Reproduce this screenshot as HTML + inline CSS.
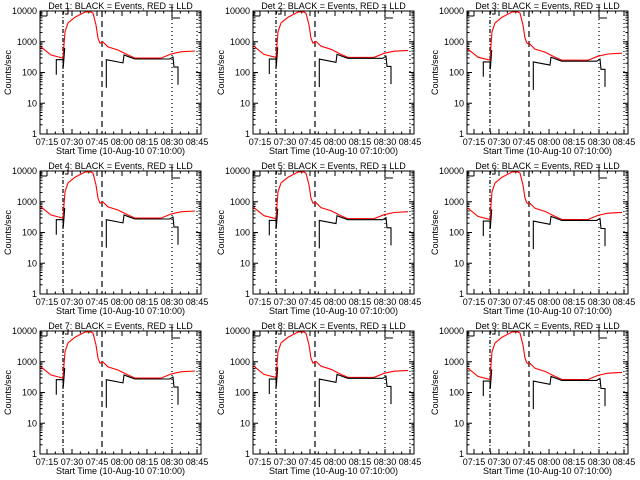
<!DOCTYPE html>
<html><head><meta charset="utf-8">
<style>
html,body{margin:0;padding:0;background:#fff;}
svg{display:block;}
text{font-family:"Liberation Sans",sans-serif;font-size:9px;fill:#000;}
</style></head>
<body>
<svg id="chart" width="640" height="480" viewBox="0 0 640 480" xmlns="http://www.w3.org/2000/svg">
<rect x="0" y="0" width="640" height="480" fill="#fff"/>
</svg>
<script>
// Data (time in minutes after 07:00, counts/sec)
const detNames = ["Det 1","Det 2","Det 3","Det 4","Det 5","Det 6","Det 7","Det 8","Det 9"];
const xTickLabels = ["07:15","07:30","07:45","08:00","08:15","08:30","08:45"];
const xTickTimes = [15,30,45,60,75,90,105];
const yTickValues = [1,10,100,1000,10000];
const yTickLabels = ["1","10","100","1000","10000"];
const redTimes = [11.2,17.4,24.6,25.2,25.8,27.6,31.8,37.8,41.4,42.6,44.4,45.6,46.8,48.6,51.6,57.6,63.6,67.8,83.4,89.4,95.4,103.8];
const redCounts = [690,370,295,800,2100,4100,6300,9300,9300,8500,3500,1300,900,980,680,540,370,295,295,400,470,500];
const blackTimes1 = [20.6,20.6,24.6,24.8,25.6];
const blackCounts1 = [85,260,260,150,630];
const blackTimes2 = [50.6,50.6,60.6,61.2,67.6,88.6,90.6,91.2,93.6,93.6];
const blackCounts2 = [32,260,205,370,275,275,320,150,150,40];
const detScale = [1.0,1.05,0.85,1.0,0.95,0.9,1.0,1.05,0.9];
const markerTimes = [24.6,48,90,105];
const markerDash = ["4,2,1,2","6,4","1,3","1,3"];

const svg = document.getElementById('chart');
const NS = "http://www.w3.org/2000/svg";
const L=40, R=201, T=11, B=134;
const tMin=10.8, tMax=107.4;
function xs(t){return L+(t-tMin)/(tMax-tMin)*(R-L);}
function ys(v){return B-(Math.log10(v)/4)*(B-T);}
function mk(tag,attrs,parent){const e=document.createElementNS(NS,tag);for(const k in attrs)e.setAttribute(k,attrs[k]);parent.appendChild(e);return e;}

const colOff=[0,213,427], rowOff=[0,160,320];
for(let p=0;p<9;p++){
  const g=mk('g',{transform:`translate(${colOff[p%3]},${rowOff[Math.floor(p/3)]})`},svg);
  
  
  const fr=mk('rect',{x:L,y:T,width:R-L,height:B-T,fill:'none',stroke:'#000','stroke-width':1},g);
  
  
  for(let d=0;d<=4;d++){
    const y=ys(yTickValues[d]);
    mk('line',{x1:L,x2:L+5,y1:y,y2:y,stroke:'#000'},g);
    mk('line',{x1:R,x2:R-5,y1:y,y2:y,stroke:'#000'},g);
    const tl=mk('text',{x:L-3,y:y+3,'text-anchor':'end','font-size':'8'},g);
    tl.textContent=yTickLabels[d];
    
    
    if(d<4){for(let m=2;m<10;m++){const ym=ys(yTickValues[d]*m);
      mk('line',{x1:L,x2:L+2.5,y1:ym,y2:ym,stroke:'#000'},g);
      mk('line',{x1:R,x2:R-2.5,y1:ym,y2:ym,stroke:'#000'},g);}}
  }
  for(let i=0;i<xTickTimes.length;i++){
    const x=xs(xTickTimes[i]);
    mk('line',{x1:x,x2:x,y1:B,y2:B-5,stroke:'#000'},g);
    mk('line',{x1:x,x2:x,y1:T,y2:T+5,stroke:'#000'},g);
    for(let m=5;m<15;m+=5){const xm=xs(xTickTimes[i]+m);if(xm<R){
      mk('line',{x1:xm,x2:xm,y1:B,y2:B-2.5,stroke:'#000'},g);
      mk('line',{x1:xm,x2:xm,y1:T,y2:T+2.5,stroke:'#000'},g);}}
    const xl=mk('text',{x:x,y:B+11,'text-anchor':'middle','font-size':'8'},g);
    xl.textContent=xTickLabels[i];
    
    
  }
  for(let i=0;i<markerTimes.length;i++){
    const x=xs(markerTimes[i]);
    const ml=mk('line',{x1:x,x2:x,y1:T,y2:B,stroke:'#000','stroke-dasharray':markerDash[i],'stroke-width':1.2},g);
    
    
  }
  mk('path',{d:`M${L+1} ${T} V${T+5} H${L+7}`,fill:'none',stroke:'#000'},g);
  mk('path',{d:`M${xs(90)} ${T-6} V${T+7} H${xs(90)+8}`,fill:'none',stroke:'#000'},g);
  mk('path',{d:`M${xs(24.6)+2} ${T+3} H${xs(24.6)+5} V${T-2}`,fill:'none',stroke:'#000'},g);
  const s=detScale[p];
  const rp=redTimes.map((t,i)=>xs(t).toFixed(1)+','+ys(redCounts[i]*(i>2&&i<13?1:s)).toFixed(1)).join(' ');
  const red=mk('polyline',{points:rp,fill:'none',stroke:'#ff0000','stroke-width':1.1},g);
  
  
  const b1=blackTimes1.map((t,i)=>xs(t).toFixed(1)+','+ys(blackCounts1[i]*s).toFixed(1)).join(' ');
  const bl1=mk('polyline',{points:b1,fill:'none',stroke:'#000','stroke-width':1.1},g);
  
  
  const b2=blackTimes2.map((t,i)=>xs(t).toFixed(1)+','+ys(blackCounts2[i]*s).toFixed(1)).join(' ');
  const bl2=mk('polyline',{points:b2,fill:'none',stroke:'#000','stroke-width':1.1},g);
  
  
  const tt=mk('text',{x:(L+R)/2,y:9,'text-anchor':'middle','font-size':'9.5'},g);
  tt.textContent=detNames[p]+": BLACK = Events, RED = LLD";
  
  
  const yt=mk('text',{x:0,y:0,'text-anchor':'middle','font-size':'8',transform:`translate(11,${(T+B)/2}) rotate(-90)`},g);
  yt.textContent="Counts/sec";
  
  
  const xt=mk('text',{x:(L+R)/2,y:B+20,'text-anchor':'middle','font-size':'9'},g);
  xt.textContent="Start Time (10-Aug-10 07:10:00)";
  
  
}
</script>
</body></html>
